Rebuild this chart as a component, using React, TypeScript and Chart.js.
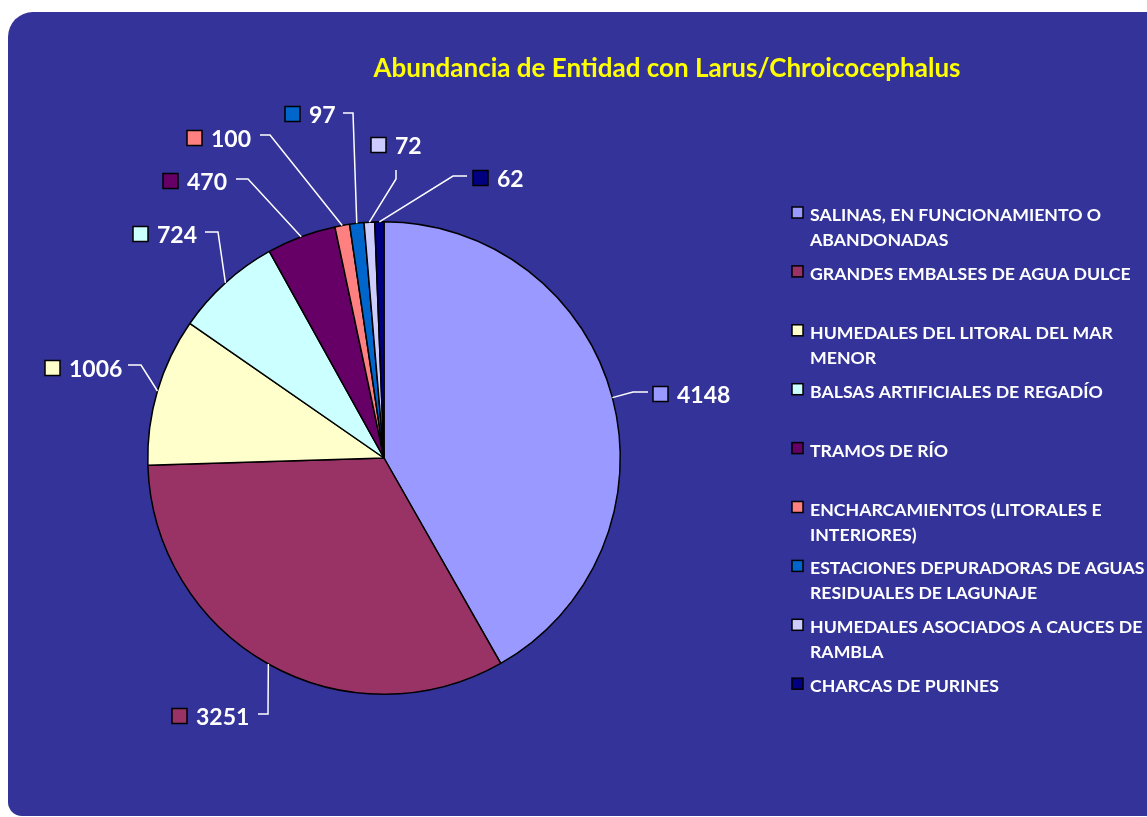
import React, { useEffect, useRef } from "react";
import { Chart, registerables } from "chart.js";

Chart.register(...registerables);

const TITLE = "Abundancia de Entidad con Larus/Chroicocephalus";

const categories = [
  "SALINAS, EN FUNCIONAMIENTO O ABANDONADAS",
  "GRANDES EMBALSES DE AGUA DULCE",
  "HUMEDALES DEL LITORAL DEL MAR MENOR",
  "BALSAS ARTIFICIALES DE REGADÍO",
  "TRAMOS DE RÍO",
  "ENCHARCAMIENTOS (LITORALES E INTERIORES)",
  "ESTACIONES DEPURADORAS DE AGUAS RESIDUALES DE LAGUNAJE",
  "HUMEDALES ASOCIADOS A CAUCES DE RAMBLA",
  "CHARCAS DE PURINES",
];

const values = [4148, 3251, 1006, 724, 470, 100, 97, 72, 62];

const colors = [
  "#9999FF",
  "#993366",
  "#FFFFCC",
  "#CCFFFF",
  "#660066",
  "#FF8080",
  "#0066CC",
  "#CCCCFF",
  "#000080",
];

// Data-label layout (page pixels): square left x, text baseline, leader elbow and end points
const labelLayout = [
  { sx: 653, base: 403, elbow: [633, 392], end: [648, 392] },
  { sx: 172, base: 725, elbow: [268, 714], end: [258, 714] },
  { sx: 45, base: 377, elbow: [141, 365], end: [128, 365] },
  { sx: 133, base: 243, elbow: [218, 232], end: [205, 232] },
  { sx: 163, base: 190, elbow: [248, 179], end: [236, 179] },
  { sx: 187, base: 147, elbow: [270, 135], end: [260, 135] },
  { sx: 285, base: 123, elbow: [353, 113], end: [343, 113] },
  { sx: 371, base: 154, elbow: [396, 179], end: [396, 170] },
  { sx: 473, base: 187, elbow: [453, 176], end: [467, 176] },
];

const FONT = "Lato, 'Open Sans', 'DejaVu Sans', sans-serif";

function wrapText(ctx: CanvasRenderingContext2D, text: string, maxW: number): string[] {
  const words = text.split(" ");
  const lines: string[] = [];
  let cur = "";
  for (const w of words) {
    const test = cur ? cur + " " + w : w;
    if (ctx.measureText(test).width > maxW && cur) {
      lines.push(cur);
      cur = w;
    } else {
      cur = test;
    }
  }
  if (cur) lines.push(cur);
  return lines;
}

const overlayPlugin = {
  id: "overlay",
  afterDatasetsDraw(chart: any) {
    const ctx: CanvasRenderingContext2D = chart.ctx;
    ctx.save();

    // Title
    ctx.font = `bold 26px ${FONT}`;
    ctx.fillStyle = "#FFFF00";
    ctx.textAlign = "center";
    ctx.textBaseline = "alphabetic";
    ctx.fillText(TITLE, 667, 77);

    // Leader lines + data labels
    const meta = chart.getDatasetMeta(0);
    meta.data.forEach((arc: any, i: number) => {
      const p = arc.getProps(["x", "y", "startAngle", "endAngle", "outerRadius"], true);
      const mid = (p.startAngle + p.endAngle) / 2;
      const px = p.x + Math.cos(mid) * p.outerRadius;
      const py = p.y + Math.sin(mid) * p.outerRadius;
      const L = labelLayout[i];
      ctx.strokeStyle = "#FFFFFF";
      ctx.lineWidth = 1.5;
      ctx.beginPath();
      ctx.moveTo(px, py);
      ctx.lineTo(L.elbow[0], L.elbow[1]);
      ctx.lineTo(L.end[0], L.end[1]);
      ctx.stroke();

      // colored key square
      const sq = 15;
      const sy = L.base - 9 - sq / 2;
      ctx.fillStyle = colors[i];
      ctx.fillRect(L.sx, sy, sq, sq);
      ctx.strokeStyle = "#000000";
      ctx.lineWidth = 1.5;
      ctx.strokeRect(L.sx, sy, sq, sq);

      ctx.font = `bold 23px ${FONT}`;
      ctx.fillStyle = "#FFFFFF";
      ctx.textAlign = "left";
      ctx.textBaseline = "alphabetic";
      ctx.fillText(String(values[i]), L.sx + sq + 9, L.base);
    });

    // Legend
    ctx.font = `bold 17.7px ${FONT}`;
    const ref = ctx.measureText("GRANDES EMBALSES DE AGUA DULCE").width;
    const maxW = 350 * (ref / 320);
    const legendX = 792;
    const firstBase = 221;
    const pitch = 58.9;
    const lineH = 25;
    categories.forEach((cat, i) => {
      const base = firstBase + i * pitch;
      const sq = 11;
      ctx.fillStyle = colors[i];
      ctx.fillRect(legendX, base - 14, sq, sq);
      ctx.strokeStyle = "#000000";
      ctx.lineWidth = 1.5;
      ctx.strokeRect(legendX, base - 14, sq, sq);
      ctx.fillStyle = "#FFFFFF";
      ctx.textAlign = "left";
      const lines = wrapText(ctx, cat, maxW);
      lines.forEach((ln, k) => ctx.fillText(ln, 810, base + k * lineH));
    });

    ctx.restore();
  },
};

export default function App() {
  const ref = useRef<HTMLCanvasElement | null>(null);
  useEffect(() => {
    document.body.style.overflow = "hidden";
    const canvas = ref.current!;
    const chart = new Chart(canvas, {
      type: "pie",
      data: {
        labels: categories,
        datasets: [
          {
            data: values,
            backgroundColor: colors,
            borderColor: "#000000",
            borderWidth: 1.5,
          },
        ],
      },
      options: {
        responsive: false,
        animation: false,
        devicePixelRatio: 1,
        events: [],
        layout: { padding: { left: 147, right: 526, top: 221, bottom: 122 } },
        plugins: {
          legend: { display: false },
          title: { display: false },
          tooltip: { enabled: false },
        },
      },
      plugins: [overlayPlugin],
    });
    return () => chart.destroy();
  }, []);

  return (
    <>
      <div
        style={{
          position: "fixed",
          left: 8,
          top: 12,
          width: 1200,
          height: 804,
          background: "#333399",
          borderRadius: "25px 0 0 14px",
        }}
      />
      <canvas
        ref={ref}
        width={1147}
        height={817}
        style={{ position: "fixed", left: 0, top: 0, width: 1147, height: 817 }}
      />
    </>
  );
}
